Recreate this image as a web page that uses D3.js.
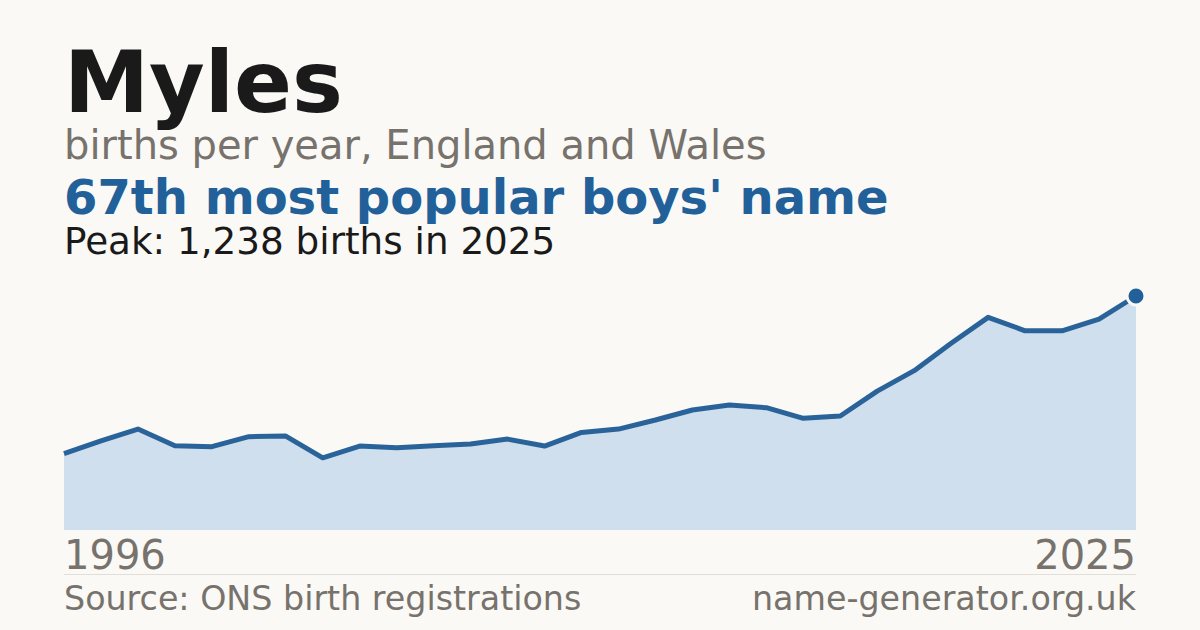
<!DOCTYPE html>
<html>
<head>
<meta charset="utf-8">
<script src="https://cdn.jsdelivr.net/npm/d3@7"></script>
<style>
  html, body { margin: 0; padding: 0; background: #faf9f5; }
  svg { display: block; font-family: "DejaVu Sans", sans-serif; }
</style>
</head>
<body>
<div id="chart"></div>
<script>
const years = d3.range(1996, 2026);
const births = [404, 471, 534, 446, 441, 494, 497, 382, 444, 435,
                446, 455, 481, 444, 516, 534, 582, 635, 661, 647,
                591, 603, 735, 843, 988, 1125, 1054, 1054, 1116, 1238];
const babyName = "Myles";
const subtitle = "births per year, England and Wales";
const rankLine = "67th most popular boys' name";
const axisLabels = ["1996", "2025"];

const width = 1200, height = 630;
const padLeft = 64, padRight = 1136, plotTop = 296, plotBottom = 530;

const svg = d3.select("#chart").append("svg")
    .attr("width", width)
    .attr("height", height);

svg.append("rect")
    .attr("width", width)
    .attr("height", height)
    .attr("fill", "#faf9f5");

const x = d3.scaleLinear()
    .domain([1996, 2025])
    .range([padLeft, padRight]);

const peak = d3.max(births);
const peakYear = years[births.indexOf(peak)];

const y = d3.scaleLinear()
    .domain([0, peak])
    .range([plotBottom, plotTop]);

const data = years.map((yr, i) => ({ year: yr, value: births[i] }));

// headings
svg.append("text")
    .attr("x", padLeft).attr("y", 112)
    .attr("font-size", 85.5).attr("font-weight", "bold")
    .attr("fill", "#1a1a1a")
    .text(babyName);

svg.append("text")
    .attr("x", padLeft).attr("y", 159)
    .attr("font-size", 40)
    .attr("fill", "#77726c")
    .text(subtitle);

svg.append("text")
    .attr("x", padLeft).attr("y", 214)
    .attr("font-size", 48).attr("font-weight", "bold")
    .attr("fill", "#22609a")
    .text(rankLine);

svg.append("text")
    .attr("x", padLeft).attr("y", 254)
    .attr("font-size", 37.3)
    .attr("fill", "#1a1a1a")
    .text("Peak: " + d3.format(",")(peak) + " births in " + peakYear);

// area + line
const area = d3.area()
    .x(d => x(d.year))
    .y0(y(0))
    .y1(d => y(d.value));

const line = d3.line()
    .x(d => x(d.year))
    .y(d => y(d.value));

svg.append("path")
    .datum(data)
    .attr("d", area)
    .attr("fill", "#cfdfee");

svg.append("path")
    .datum(data)
    .attr("d", line)
    .attr("fill", "none")
    .attr("stroke", "#2a6399")
    .attr("stroke-width", 5)
    .attr("stroke-linejoin", "round");

svg.append("circle")
    .attr("cx", x(peakYear))
    .attr("cy", y(peak))
    .attr("r", 9)
    .attr("fill", "#22609a")
    .attr("stroke", "#faf9f5")
    .attr("stroke-width", 3);

// year labels
svg.append("text")
    .attr("x", x(1996)).attr("y", 569)
    .attr("font-size", 40)
    .attr("fill", "#77726c")
    .text(axisLabels[0]);

svg.append("text")
    .attr("x", x(2025)).attr("y", 569)
    .attr("font-size", 40)
    .attr("text-anchor", "end")
    .attr("fill", "#77726c")
    .text(axisLabels[1]);

svg.append("line")
    .attr("x1", padLeft).attr("x2", padRight)
    .attr("y1", 574.5).attr("y2", 574.5)
    .attr("stroke", "#e2dfd8")
    .attr("stroke-width", 1);

// footer
svg.append("text")
    .attr("x", padLeft).attr("y", 610)
    .attr("font-size", 33.3)
    .attr("fill", "#77726c")
    .text("Source: ONS birth registrations");

svg.append("text")
    .attr("x", padRight).attr("y", 610)
    .attr("font-size", 33.3)
    .attr("text-anchor", "end")
    .attr("fill", "#77726c")
    .text("name-generator.org.uk");
</script>
</body>
</html>
